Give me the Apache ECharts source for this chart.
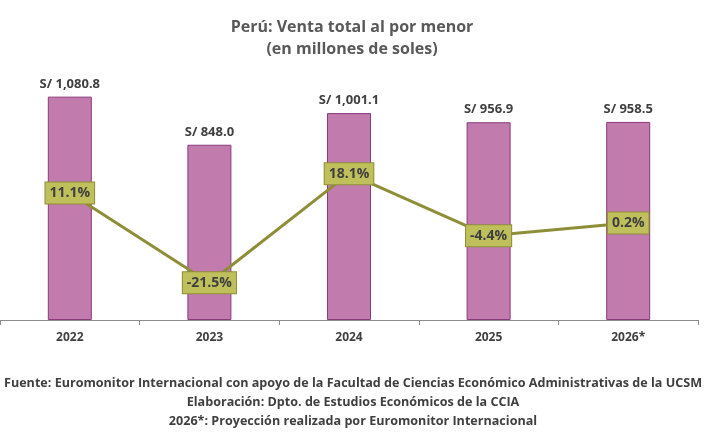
<!DOCTYPE html>
<html>
<head>
<meta charset="utf-8">
<script src="https://cdn.jsdelivr.net/npm/echarts@6/dist/echarts.min.js"></script>
<style>
  html, body { margin: 0; padding: 0; background: #fff; }
  #chart { width: 708px; height: 440px; }
</style>
</head>
<body>
<div id="chart"></div>
<script>
var years = ["2022", "2023", "2024", "2025", "2026*"]
var ventas = [1080.8, 848.0, 1001.1, 956.9, 958.5]
var variacion = [11.1, -21.5, 18.1, -4.4, 0.2]
var notas = [
  "Fuente: Euromonitor Internacional con apoyo de la Facultad de Ciencias Económico Administrativas de la UCSM",
  "Elaboración: Dpto. de Estudios Económicos de la CCIA",
  "2026*: Proyección realizada por Euromonitor Internacional"
]

var fontMain = "'Open Sans', sans-serif"
var footFont = "bold 13px 'Open Sans', sans-serif"

// the footer is set in a narrow face in the reference: squeeze it horizontally
var ctx = document.createElement("canvas").getContext("2d")
ctx.font = footFont
var squeeze = 698 / ctx.measureText(notas[0]).width

var myChart = echarts.init(document.getElementById("chart"))

var option = {
  animation: false,
  title: {
    text: "Perú: Venta total al por menor\n(en millones de soles)",
    left: 347, top: 11, textAlign: "center",
    textStyle: { fontFamily: fontMain, fontSize: 16, fontWeight: "bold", color: "#595959", lineHeight: 22 }
  },
  graphic: notas.map(function (t, i) {
    return {
      type: "text", x: 353, y: 383 + i * 19, scaleX: squeeze,
      style: { text: t, font: footFont, fill: "#404040", align: "center", verticalAlign: "middle" }
    }
  }),
  grid: { left: -4, width: 702, top: 72, bottom: 120 },
  xAxis: {
    type: "category", data: years,
    axisLine: { lineStyle: { color: "#8c8c8c", width: 1 } },
    axisTick: { show: true, length: 5, lineStyle: { color: "#8c8c8c" } },
    axisLabel: { margin: 12, fontFamily: fontMain, fontSize: 12, fontWeight: "bold", color: "#404040" }
  },
  yAxis: [
    { type: "value", min: 0, max: 1200, show: false, splitLine: { show: false } },
    { type: "value", min: -35, max: 55, show: false, splitLine: { show: false } }
  ],
  series: [
    {
      type: "bar", data: ventas, barWidth: 44,
      itemStyle: { color: "#C27BAD", borderColor: "#8B3A7A", borderWidth: 1 },
      label: {
        show: true, position: "top", distance: 6,
        formatter: function (p) { return "S/ " + p.value.toLocaleString("en-US", { minimumFractionDigits: 1, maximumFractionDigits: 1 }) },
        fontFamily: fontMain, fontSize: 13, fontWeight: "bold", color: "#404040"
      }
    },
    {
      type: "line", data: variacion, yAxisIndex: 1,
      symbol: "circle", symbolSize: 1, showSymbol: true,
      itemStyle: { color: "#8E8E38" },
      lineStyle: { color: "#8E8E38", width: 3 },
      z: 3,
      label: {
        show: true, position: "inside",
        formatter: function (p) { return p.value.toFixed(1) + "%" },
        fontFamily: fontMain, fontSize: 14, fontWeight: "bold", color: "#404040",
        backgroundColor: "#BFBF5C", borderColor: "#8E8E38", borderWidth: 1,
        padding: [4, 4, 3, 4]
      }
    }
  ]
}
myChart.setOption(option)
</script>
</body>
</html>
